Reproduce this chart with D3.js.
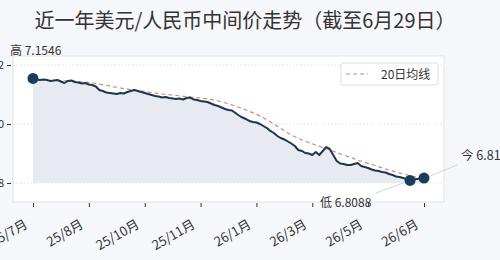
<!DOCTYPE html>
<html>
<head>
<meta charset="utf-8">
<script src="https://cdn.jsdelivr.net/npm/d3@7"></script>
<style>
  html, body { margin: 0; padding: 0; background: #f6f7fa; }
  svg { display: block; font-family: "Noto Sans CJK SC", "Noto Sans", sans-serif; }
</style>
</head>
<body>
<svg id="chart"></svg>
<script>
// daily fix (resampled)
const rates = [
  7.1546, 7.1508, 7.1492, 7.1508, 7.1492, 7.1458, 7.1475, 7.1492, 7.1441, 7.1390,
  7.1458, 7.1475, 7.1424, 7.1407, 7.1373, 7.1390, 7.1339, 7.1322, 7.1271, 7.1153,
  7.1119, 7.1068, 7.1051, 7.1034, 7.1017, 7.1051, 7.1034, 7.1085, 7.1119, 7.1153,
  7.1119, 7.1085, 7.1051, 7.1017, 7.0983, 7.0949, 7.0932, 7.0898, 7.0915, 7.0881,
  7.0864, 7.0847, 7.0864, 7.0831, 7.0881, 7.0898, 7.0831, 7.0814, 7.0780, 7.0763,
  7.0746, 7.0695, 7.0644, 7.0610, 7.0559, 7.0508, 7.0475, 7.0458, 7.0373, 7.0288,
  7.0220, 7.0169, 7.0102, 7.0068, 7.0051, 7.0000, 6.9932, 6.9864, 6.9763, 6.9695,
  6.9593, 6.9525, 6.9475, 6.9407, 6.9339, 6.9254, 6.9119, 6.9085, 6.9017, 6.9000,
  6.8949, 6.9051, 6.8949, 6.9085, 6.9220, 6.9153, 6.8949, 6.8746, 6.8661, 6.8644,
  6.8610, 6.8610, 6.8644, 6.8678, 6.8576, 6.8542, 6.8508, 6.8458, 6.8424, 6.8407,
  6.8373, 6.8356, 6.8305, 6.8271, 6.8220, 6.8203, 6.8169, 6.8136, 6.8088, 6.8119,
  6.8136, 6.8153, 6.8169
];

// 20-day moving average, [index, value]
const ma20 = [
  [9, 7.1475], [13, 7.1441], [17, 7.1390], [21, 7.1305], [25, 7.1220], [29, 7.1153],
  [33, 7.1085], [37, 7.1017], [41, 7.0966], [45, 7.0915], [49, 7.0864], [53, 7.0780],
  [57, 7.0644], [61, 7.0475], [65, 7.0271], [69, 7.0000], [73, 6.9695], [77, 6.9458],
  [81, 6.9288], [85, 6.9119], [89, 6.8949], [93, 6.8780], [97, 6.8627], [101, 6.8475],
  [105, 6.8339], [109, 6.8220], [112, 6.8153]
];

const xTickIdx = [0, 16, 32, 48, 64, 80, 96, 112];
const xTickLabels = ["25/7月", "25/8月", "25/10月", "25/11月", "26/1月", "26/3月", "26/5月", "26/6月"];
const yTicks = [6.8, 7.0, 7.2];

const title = "近一年美元/人民币中间价走势（截至6月29日）";
const highText = "高 7.1546";
const lowText = "低 6.8088";
const nowText = "今 6.8169";
const legendText = "20日均线";

const W = 500, H = 260;
const box = {left: 13, right: 444, top: 56, bottom: 202};

const svg = d3.select("#chart").attr("width", W).attr("height", H);
svg.append("rect").attr("width", W).attr("height", H).attr("fill", "#f6f7fa");

const x = d3.scaleLinear().domain([0, rates.length - 1]).range([33, 424]);
const y = d3.scaleLinear().domain([6.8, 7.2]).range([183, 65]);

// axes background
svg.append("rect")
  .attr("x", box.left).attr("y", box.top)
  .attr("width", box.right - box.left).attr("height", box.bottom - box.top)
  .attr("fill", "#fff").attr("stroke", "#e1e3e8").attr("stroke-width", 1);

// grid
svg.append("g").selectAll("line").data(yTicks).enter().append("line")
  .attr("x1", box.left).attr("x2", box.right)
  .attr("y1", d => y(d)).attr("y2", d => y(d))
  .attr("stroke", "#d8dae0").attr("stroke-dasharray", "1.5,2").attr("stroke-width", 0.8);

// y axis
const yAxis = d3.axisLeft(y).tickValues(yTicks).tickFormat(d3.format(".1f")).tickSize(4).tickPadding(3);
const gy = svg.append("g").attr("transform", `translate(${box.left - 2},0)`).call(yAxis);
gy.select(".domain").remove();
gy.selectAll("line").attr("stroke", "#333");
gy.selectAll("text").attr("font-size", 11).attr("fill", "#333").attr("font-family", "Noto Sans CJK SC");

// x axis
const xAxis = d3.axisBottom(x).tickValues(xTickIdx).tickFormat((d, i) => xTickLabels[i]).tickSize(4);
const gx = svg.append("g").attr("transform", `translate(0,${box.bottom + 1})`).call(xAxis);
gx.select(".domain").remove();
gx.selectAll("line").attr("stroke", "#333");
gx.selectAll("text")
  .attr("font-size", 13).attr("fill", "#333").attr("font-family", "Noto Sans CJK SC")
  .attr("text-anchor", "end")
  .attr("y", 0).attr("dy", 0)
  .attr("transform", "translate(-5,24) rotate(-30)");

// area under the rate
const area = d3.area().x((d, i) => x(i)).y0(y(6.8)).y1(d => y(d));
svg.append("path").datum(rates).attr("d", area).attr("fill", "#e7ebf1");

// moving average
const maLine = d3.line().x(d => x(d[0])).y(d => y(d[1])).curve(d3.curveMonotoneX);
svg.append("path").datum(ma20).attr("d", maLine)
  .attr("fill", "none").attr("stroke", "#d4867a").attr("stroke-width", 1.2)
  .attr("stroke-dasharray", "4,3");

// rate line
const line = d3.line().x((d, i) => x(i)).y(d => y(d));
svg.append("path").datum(rates).attr("d", line)
  .attr("fill", "none").attr("stroke", "#1a3850").attr("stroke-width", 2)
  .attr("stroke-linejoin", "round");

// markers: start (high), low, last
const lowIdx = d3.minIndex(rates);
const lastIdx = rates.length - 1;
svg.append("g").selectAll("circle").data([0, lowIdx, lastIdx]).enter().append("circle")
  .attr("cx", i => x(i)).attr("cy", i => y(rates[i])).attr("r", 5.5)
  .attr("fill", "#1b3d5a");

// annotations
svg.append("line")
  .attr("x1", 376).attr("y1", 193).attr("x2", x(lowIdx) - 5).attr("y2", y(rates[lowIdx]) + 2)
  .attr("stroke", "#d2d4d8").attr("stroke-width", 1);
svg.append("line")
  .attr("x1", x(lastIdx) + 6).attr("y1", y(rates[lastIdx]) - 2).attr("x2", 457).attr("y2", 165)
  .attr("stroke", "#d2d4d8").attr("stroke-width", 1);

svg.append("text").attr("x", 10).attr("y", 55).text(highText)
  .attr("font-size", 12).attr("fill", "#333");
svg.append("text").attr("x", 320).attr("y", 207).text(lowText)
  .attr("font-size", 12).attr("fill", "#333");
svg.append("text").attr("x", 461).attr("y", 160).text(nowText)
  .attr("font-size", 12.5).attr("fill", "#333");

// legend
const lg = svg.append("g").attr("transform", "translate(341,63)");
lg.append("rect").attr("width", 97).attr("height", 22).attr("rx", 2)
  .attr("fill", "#fff").attr("stroke", "#dcdde2");
lg.append("line").attr("x1", 5).attr("x2", 27).attr("y1", 11).attr("y2", 11)
  .attr("stroke", "#d4867a").attr("stroke-width", 1.2).attr("stroke-dasharray", "4,3");
lg.append("text").attr("x", 40).attr("y", 15.5).text(legendText)
  .attr("font-size", 12).attr("fill", "#333");

// title
svg.append("text").attr("x", 245).attr("y", 28).attr("text-anchor", "middle")
  .text(title).attr("font-size", 20).attr("fill", "#333");
</script>
</body>
</html>
